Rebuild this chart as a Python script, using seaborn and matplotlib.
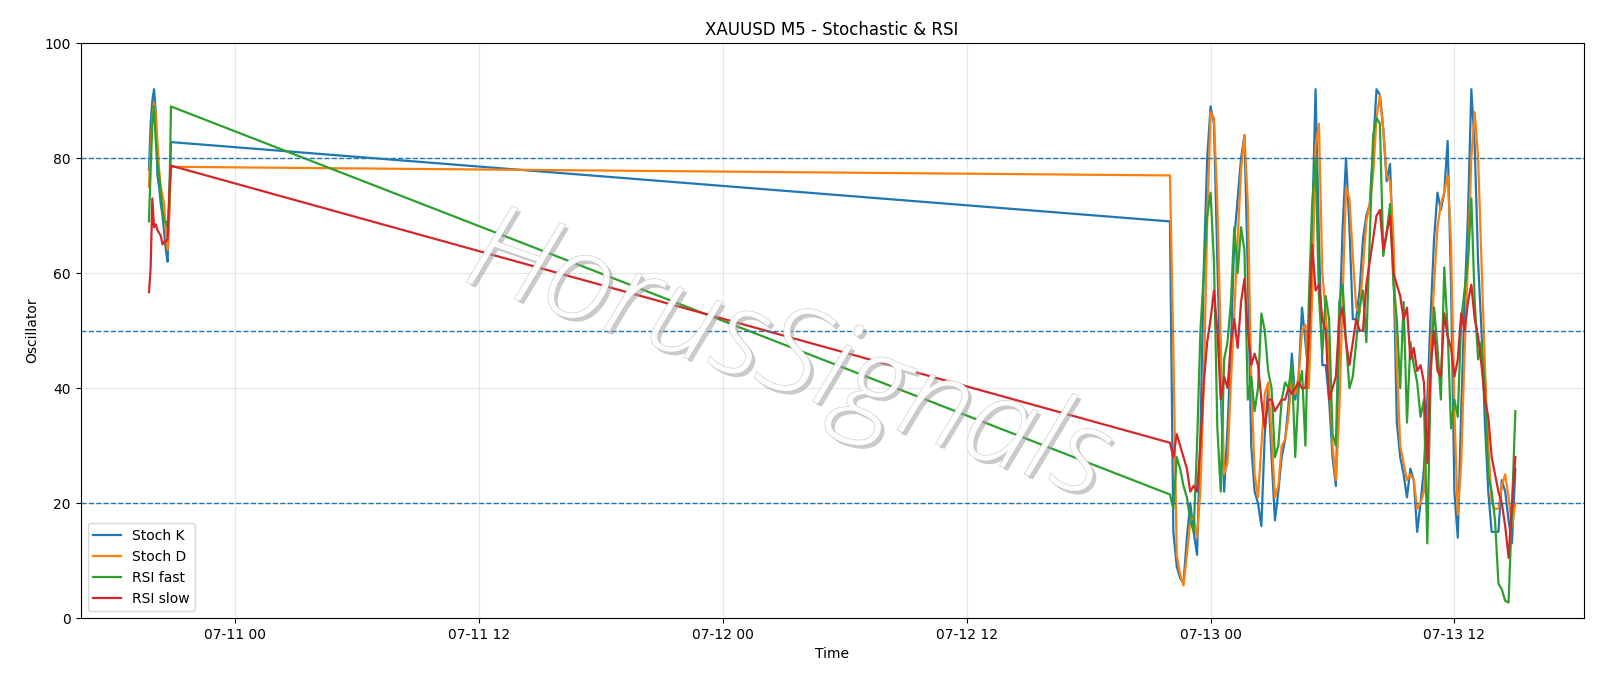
import pandas as pd
import numpy as np
import matplotlib
matplotlib.use("Agg")
import matplotlib.pyplot as plt
import matplotlib.dates as mdates
import matplotlib.patheffects as pe
import seaborn as sns

# --- datos ---
# tramo inicial (velas de 5 min, 07-10)
seg1_times = pd.date_range("2025-07-10 19:45", periods=14, freq="5min")
seg1_k = [78, 86, 90, 92, 88, 77, 75, 72, 70, 67, 64, 62, 72, 82.8]
seg1_d = [75, 82, 87, 89.6, 88, 83, 78, 75, 73.5, 72, 67, 64, 70, 78.5]
seg1_rsi_fast = [69, 78, 86, 89, 83, 79, 77, 74, 71, 69, 69, 68, 72, 89]
seg1_rsi_slow = [56.7, 61, 73, 68, 68.5, 67.5, 67, 66.5, 65, 65.5, 65.5, 66, 74, 78.7]

# tramo denso (07-12 22:00 -> 07-13 15:00, cada 10 min)
dense_times = pd.date_range("2025-07-12 22:00", "2025-07-13 15:00", freq="10min")
dense_k = [
    69, 15, 9, 7, 6, 14,
    20, 15, 11, 32, 61, 80,
    89, 86, 62, 40, 22, 33,
    47, 66, 73, 80, 84, 60,
    30, 22, 20, 16, 32, 40,
    28, 17, 22, 28, 31, 37,
    46, 38, 42, 54, 48, 42,
    68, 92, 66, 44, 44, 38,
    28, 23, 50, 68, 80, 68,
    52, 52, 57, 66, 70, 72,
    82, 92, 91, 85, 76, 79,
    62, 34, 28, 25, 21, 26,
    24, 15, 20, 26, 38, 53,
    66, 74, 71, 74, 83, 58,
    22, 14, 36, 55, 70, 92,
    82, 62, 50, 34, 22, 15,
    15, 15, 24, 22, 17, 13,
    26,
]
dense_d = [
    77, 47, 11, 7.6, 5.7, 11,
    17, 17.5, 14, 22.5, 41, 69,
    88, 87, 72, 48, 25, 27,
    41, 53, 66, 78, 84, 72,
    42, 25, 21, 30, 39, 41,
    32, 21, 23, 30, 31, 35,
    42, 39, 42, 50, 51, 40,
    56, 82, 86, 60, 53, 45,
    30, 24, 36, 56, 75, 73,
    63, 54, 53, 61, 69, 72,
    77, 87, 91, 85, 77, 76,
    66, 44, 30, 27, 24, 25,
    24, 19, 20, 22, 32, 47,
    58, 68, 72, 74, 77, 65,
    36, 18, 27, 46, 62, 80,
    88, 80, 62, 44, 30, 20,
    19, 19, 23, 25, 21, 16,
    20,
]
dense_rsi_fast = [
    21.5, 19, 28, 26, 23, 21,
    17, 15, 30, 50, 60, 70,
    74, 62, 33, 22, 45, 48,
    55, 68, 60, 68, 64, 38,
    42, 36, 40, 53, 50, 43,
    40, 28, 30, 38, 41, 40,
    44, 28, 40, 43, 30, 55,
    72, 80, 56, 46, 56, 52,
    32, 30, 55, 58, 48, 40,
    42, 48, 54, 57, 48, 66,
    84, 87, 86, 63, 67, 72,
    58, 52, 40, 55, 34, 48,
    44, 41, 35, 38, 13, 42,
    54, 47, 38, 61, 50, 33,
    38, 35, 52, 57, 62, 73,
    55, 45, 48, 40, 25, 22,
    17, 6, 5, 3, 2.7, 19,
    36,
]
dense_rsi_slow = [
    30.5, 28, 32, 30, 28, 26,
    22, 23, 22, 30, 41, 48,
    52, 57, 50, 38, 42, 40,
    48, 52, 47, 55, 59, 50,
    44, 46, 44, 38, 33, 38,
    38, 36, 37, 38, 38, 40,
    39, 40, 41, 40, 40, 48,
    65, 57, 58, 52, 50, 38,
    40, 42, 52, 54, 48, 44,
    48, 52, 50, 50, 58, 62,
    66, 70, 71, 64, 67, 70,
    60, 58, 56, 52, 54, 45,
    47, 43, 44, 41, 27, 44,
    50, 43, 42, 53, 49, 47,
    42, 45, 53, 50, 55, 58,
    52, 49, 44, 38, 35, 28,
    25, 22, 20, 16, 10.5, 20,
    28,
]

levels = [80, 50, 20]

# --- armar DataFrame ---
times = seg1_times.append(dense_times)
df = pd.DataFrame({
    "time": times,
    "Stoch K": seg1_k + dense_k,
    "Stoch D": seg1_d + dense_d,
    "RSI fast": seg1_rsi_fast + dense_rsi_fast,
    "RSI slow": seg1_rsi_slow + dense_rsi_slow,
})

colors = {
    "Stoch K": "#1f77b4",
    "Stoch D": "#ff7f0e",
    "RSI fast": "#2ca02c",
    "RSI slow": "#d62728",
}

fig, ax = plt.subplots(figsize=(16, 6.86), dpi=100)
fig.subplots_adjust(left=0.0504, right=0.9898, top=0.937, bottom=0.099)

for col, c in colors.items():
    sns.lineplot(data=df, x="time", y=col, color=c, label=col, ax=ax, linewidth=1.6)

for lvl in levels:
    ax.axhline(lvl, linestyle="--", linewidth=1, color="#1f77b4")

ax.set_ylim(0, 100)
ax.xaxis.set_major_locator(mdates.HourLocator(byhour=[0, 12]))
ax.xaxis.set_major_formatter(mdates.DateFormatter("%m-%d %H"))
ax.grid(True, alpha=0.3)
ax.set_title("XAUUSD M5 - Stochastic & RSI", fontsize=12)
ax.set_xlabel("Time")
ax.set_ylabel("Oscillator")
ax.legend(loc="lower left")

# marca de agua
ax.text(
    0.47, 0.45, "HorusSignals", transform=ax.transAxes,
    fontsize=87, fontstyle="italic", fontweight="light",
    family=["Open Sans", "DejaVu Sans"], color="white", alpha=0.8,
    rotation=-19, ha="center", va="center", zorder=10,
    path_effects=[
        pe.SimplePatchShadow(offset=(2.5, -2.5), shadow_rgbFace="#a0a0a0", alpha=0.55),
        pe.Stroke(linewidth=0.8, foreground="#c0c0c0"),
        pe.Normal(),
    ],
)

plt.savefig("out.png", dpi=100)
